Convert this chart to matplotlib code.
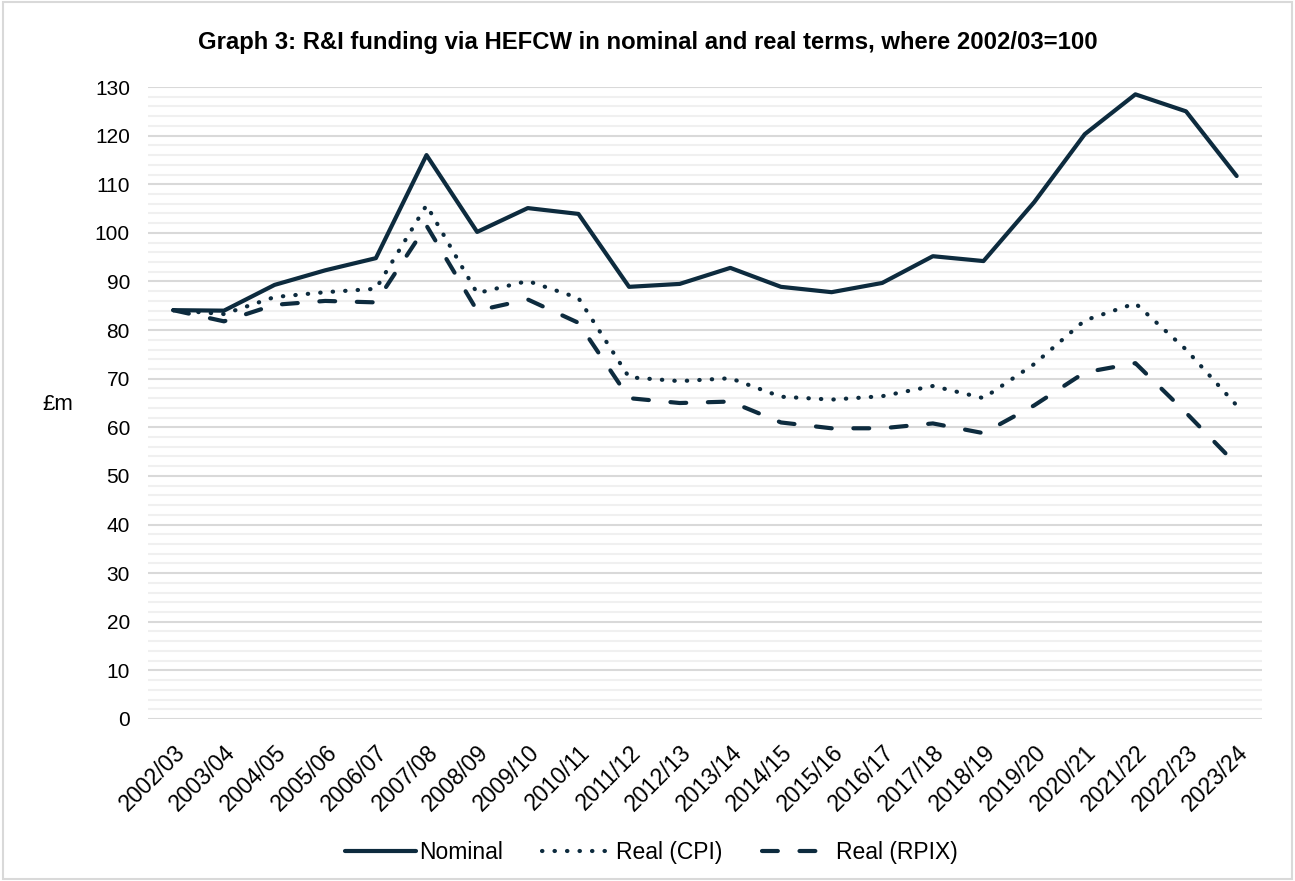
import numpy as np
import matplotlib.pyplot as plt
from matplotlib.patches import Rectangle
from matplotlib.ticker import MultipleLocator

years = ["2002/03", "2003/04", "2004/05", "2005/06", "2006/07", "2007/08",
         "2008/09", "2009/10", "2010/11", "2011/12", "2012/13", "2013/14",
         "2014/15", "2015/16", "2016/17", "2017/18", "2018/19", "2019/20",
         "2020/21", "2021/22", "2022/23", "2023/24"]
nominal = [84.1, 84.0, 89.3, 92.3, 94.8, 116.0, 100.2, 105.1, 103.9, 88.9, 89.5,
           92.8, 88.9, 87.8, 89.7, 95.2, 94.2, 106.3, 120.3, 128.5, 125.0, 111.7]
real_cpi = [84.1, 83.3, 86.8, 87.8, 88.5, 105.7, 87.6, 90.1, 86.6, 70.3, 69.5,
            70.1, 66.3, 65.7, 66.4, 68.5, 66.0, 73.0, 82.0, 85.5, 76.0, 64.5]
real_rpix = [84.1, 81.8, 85.2, 86.0, 85.7, 101.5, 84.0, 86.3, 81.5, 66.0, 65.0,
             65.3, 61.0, 59.8, 59.8, 60.8, 58.8, 64.5, 71.3, 73.2, 63.0, 52.3]

plt.rcParams['font.family'] = ['Liberation Sans', 'DejaVu Sans']
navy = '#0d2b3e'

fig = plt.figure(figsize=(12.95, 8.81), dpi=100)
ax = fig.add_axes([0.1143, 0.1839, 0.8602, 0.7173])

x = np.arange(len(years))
ax.plot(x, nominal, color=navy, lw=3, solid_capstyle='round', label='Nominal')
ax.plot(x, real_cpi, color=navy, lw=3, linestyle=(0, (0.1, 2.9)),
        dash_capstyle='round', label='Real (CPI)')
ax.plot(x, real_rpix, color=navy, lw=3, linestyle=(0, (3.8, 5.2)),
        dash_capstyle='round', label='Real (RPIX)')

ax.set_xlim(-0.5, len(years) - 0.5)
ax.set_ylim(0, 130)
ax.yaxis.set_major_locator(MultipleLocator(10))
ax.yaxis.set_minor_locator(MultipleLocator(2))
ax.grid(which='major', axis='y', color='#d9d9d9', lw=1.5)
ax.grid(which='minor', axis='y', color='#f0f0f0', lw=1.5)
ax.set_axisbelow(True)
for s in ax.spines.values():
    s.set_visible(False)

ax.set_xticks(x)
ax.set_xticklabels(years, rotation=45, ha='right', rotation_mode='anchor')
ax.tick_params(axis='both', which='both', length=0, colors='black')
ax.tick_params(axis='y', pad=13, labelsize=15)
ax.tick_params(axis='x', pad=16, labelsize=16.5)

fig.text(58 / 1295, 1 - 405 / 881, '£m', ha='center', va='center', fontsize=16)

fig.text(0.5, 0.952, 'Graph 3: R&I funding via HEFCW in nominal and real terms, where 2002/03=100',
         ha='center', va='center', fontsize=17.2, fontweight='bold')

ax.legend(loc='center', bbox_to_anchor=(0.503, 0.032), bbox_transform=fig.transFigure,
          ncol=3, frameon=False, fontsize=16.5, handlelength=3.1, columnspacing=1.7,
          handletextpad=0.15)

fig.patches.append(Rectangle((0.002, 0.002), 0.996, 0.996, transform=fig.transFigure,
                             fill=False, edgecolor='#d9d9d9', lw=1.5))

fig.savefig('out.png', dpi=100)
